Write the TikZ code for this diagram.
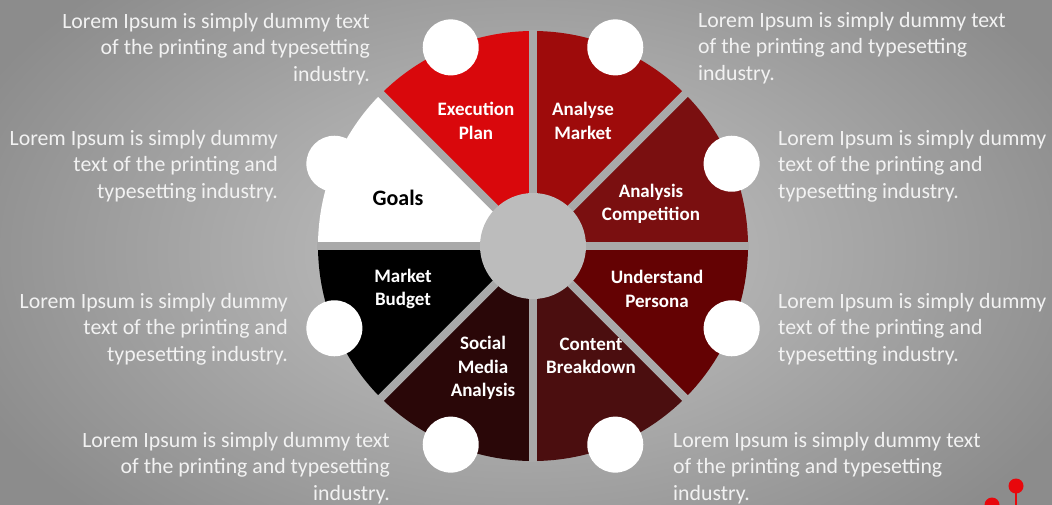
\documentclass[tikz,border=0pt]{standalone}
\usepackage{fontspec}
\setmainfont{Carlito}
\usetikzlibrary{calc}
% wheel colours
\definecolor{segExec}{HTML}{D9080C}
\definecolor{segMarket}{HTML}{9E0B0B}
\definecolor{segCompet}{HTML}{7A0F10}
\definecolor{segPersona}{HTML}{640203}
\definecolor{segContent}{HTML}{4B0E0F}
\definecolor{segSocial}{HTML}{2A0708}
\definecolor{segBudget}{HTML}{000000}
\definecolor{segGoals}{HTML}{FFFFFF}
\definecolor{gapgray}{HTML}{A9A9A9}
\definecolor{hubgray}{HTML}{BCBCBC}
\definecolor{notewhite}{HTML}{F2F2F2}
\definecolor{pinred}{HTML}{E8070C}
\def\wheelR{215}
% text block, right edge at #2
\def\leftnote#1#2#3{
  \node [note, anchor=east, align=right] (#1) at (#2) {#3};
}
% text block, left edge at #2
\def\rightnote#1#2#3{
  \node [note, anchor=west, align=left] (#1) at (#2) {#3};
}

\begin{document}
\begin{tikzpicture}[x=1pt, y=-1pt,
  note/.style={text=notewhite, inner sep=0pt,
    font=\fontsize{21.8}{26.5}\selectfont},
  seglabel/.style={text=white, align=center, inner sep=0pt,
    font=\bfseries\fontsize{19}{23.5}\selectfont},
  gap/.style={draw=gapgray, line width=8pt},
  hub/.style={circle, fill=hubgray, minimum size=106pt, inner sep=0pt},
  dot/.style={circle, fill=white, minimum size=56pt, inner sep=0pt}]
\clip (0,0) rectangle (1052,504);
% background
\shade[inner color=gray!45, outer color=gray!105!black!95] (-80,-120) rectangle (1132,624);

\begin{scope}[shift={(533,246)}, y=1pt]
  % eight slices
  \foreach \a/\col in {90/segExec, 45/segMarket, 0/segCompet, -45/segPersona,
    -90/segContent, -135/segSocial, 180/segBudget, 135/segGoals}
    \fill[\col] (0,0) -- (\a:\wheelR) arc[start angle=\a, delta angle=45,
      radius=\wheelR] -- cycle;
  % gaps between slices
  \foreach \a in {0,45,...,315}
    \draw[gap] (0,0) -- (\a:\wheelR+1);
  \node[hub] (hub) at (0,0) {};
  % white dots on the rim
  \foreach \a [count=\i] in {22.5,67.5,...,337.5}
    \node[dot] (dot\i) at (\a:\wheelR) {};
\end{scope}

% slice labels
\node[seglabel] (exec) at (476,121) {Execution\\Plan};
\node[seglabel] (market) at (583,121) {Analyse\\Market};
\node[seglabel] (compet) at (651,204) {Analysis\\Competition};
\node[seglabel] (persona) at (657,289) {Understand\\Persona};
\node[seglabel] (content) at (591,356) {Content\\Breakdown};
\node[seglabel] (social) at (483,368) {Social\\Media\\Analysis};
\node[seglabel] (budget) at (403,289) {Market\\Budget};
\node[seglabel, text=black, font=\bfseries\fontsize{22}{26}\selectfont]
  (goals) at (398,198) {Goals};

% notes round the wheel
\leftnote{noteA}{370,49}{Lorem Ipsum is simply dummy text\\of the printing and typesetting\\industry.}
\leftnote{noteB}{278,166}{Lorem Ipsum is simply dummy\\text of the printing and\\typesetting industry.}
\leftnote{noteC}{288,329}{Lorem Ipsum is simply dummy\\text of the printing and\\typesetting industry.}
\leftnote{noteD}{390,468}{Lorem Ipsum is simply dummy text\\of the printing and typesetting\\industry.}
\rightnote{noteE}{698,48}{Lorem Ipsum is simply dummy text\\of the printing and typesetting\\industry.}
\rightnote{noteF}{778,166}{Lorem Ipsum is simply dummy\\text of the printing and\\typesetting industry.}
\rightnote{noteG}{778,329}{Lorem Ipsum is simply dummy\\text of the printing and\\typesetting industry.}
\rightnote{noteH}{673,468}{Lorem Ipsum is simply dummy text\\of the printing and typesetting\\industry.}

% red pins in the corner
\coordinate (pinA) at (1016,486);
\coordinate (pinB) at (992,505);
\draw[pinred, line width=2pt] (pinA) -- (1016,510);
\fill[pinred] (pinA) circle (7.5);
\fill[pinred] (pinB) circle (7.5);
\end{tikzpicture}
\end{document}
